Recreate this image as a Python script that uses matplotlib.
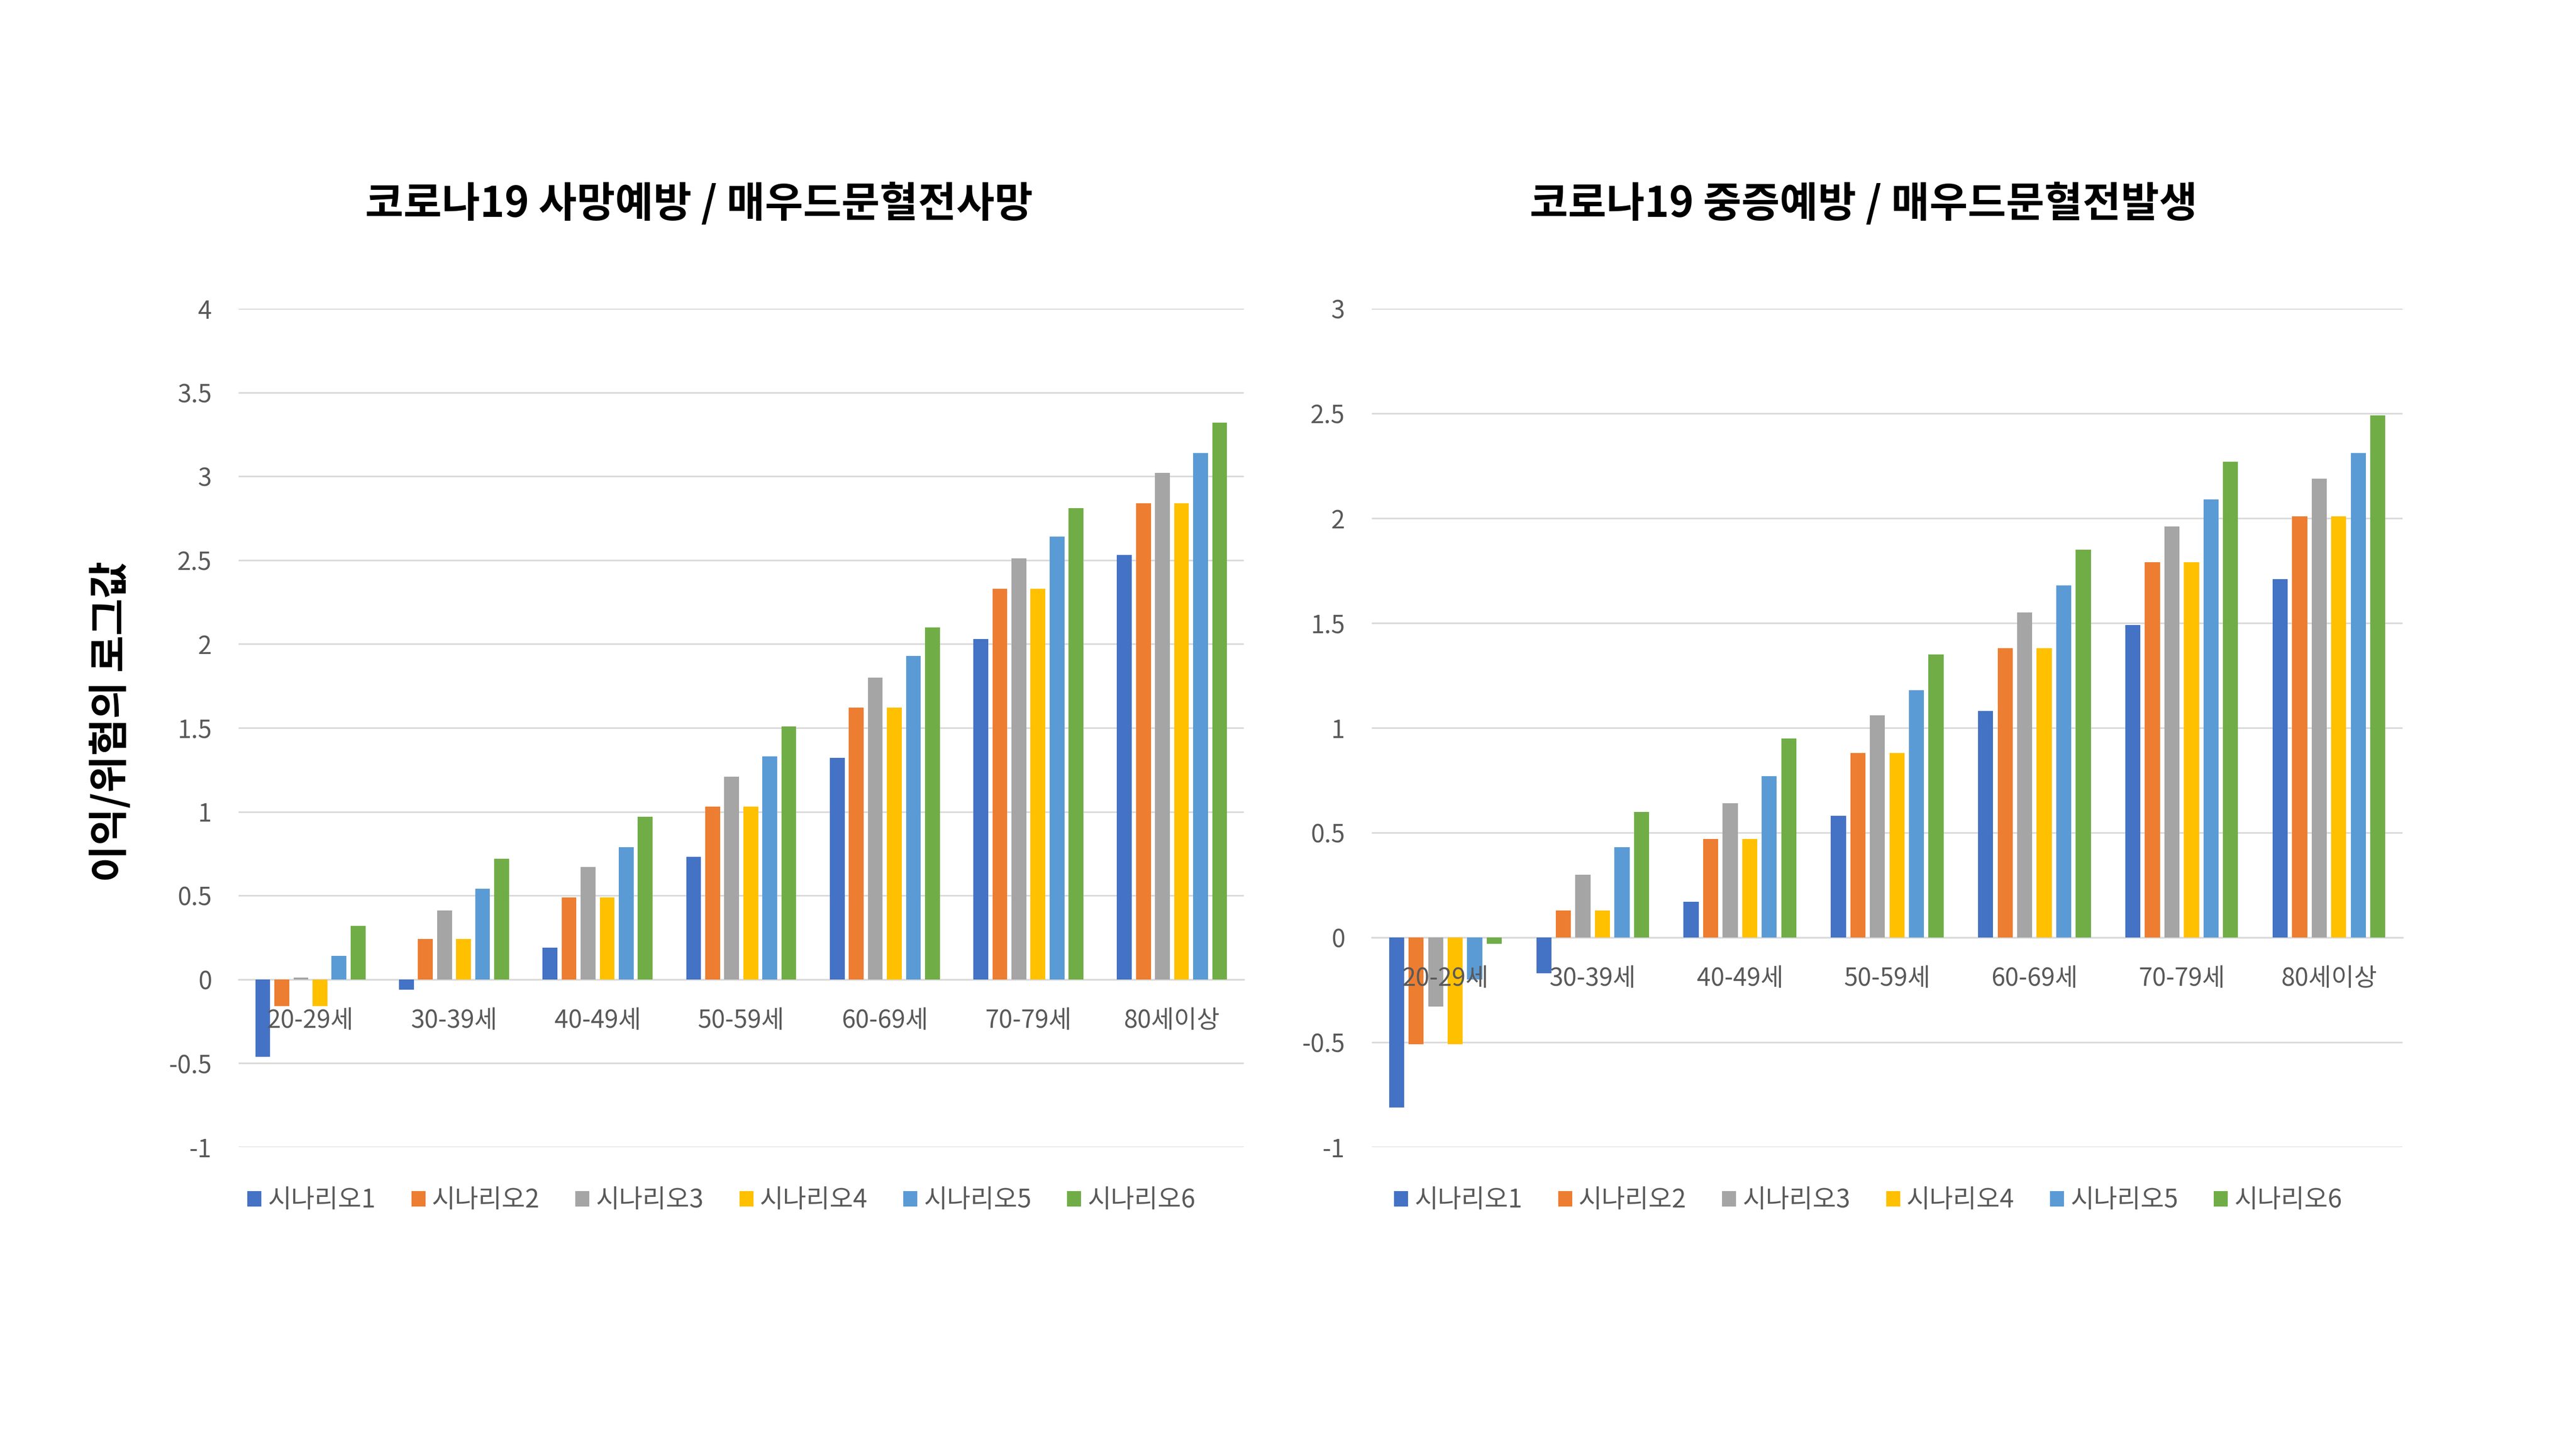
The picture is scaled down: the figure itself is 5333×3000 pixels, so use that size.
import numpy as np
import matplotlib
matplotlib.use("Agg")
import matplotlib.pyplot as plt
from matplotlib.patches import Patch

plt.rcParams['font.family'] = ['Noto Sans CJK KR', 'DejaVu Sans']

ages = ["20-29세", "30-39세", "40-49세", "50-59세", "60-69세", "70-79세", "80세이상"]
scenarios = ["시나리오1", "시나리오2", "시나리오3", "시나리오4", "시나리오5", "시나리오6"]
colors = ["#4472C4", "#ED7D31", "#A5A5A5", "#FFC000", "#5B9BD5", "#70AD47"]

# 코로나19 사망예방 / 매우드문혈전사망  (rows: age group, cols: scenario)
death = [
    [-0.46, -0.16, 0.01, -0.16, 0.14, 0.32],
    [-0.06, 0.24, 0.41, 0.24, 0.54, 0.72],
    [0.19, 0.49, 0.67, 0.49, 0.79, 0.97],
    [0.73, 1.03, 1.21, 1.03, 1.33, 1.51],
    [1.32, 1.62, 1.80, 1.62, 1.93, 2.10],
    [2.03, 2.33, 2.51, 2.33, 2.64, 2.81],
    [2.53, 2.84, 3.02, 2.84, 3.14, 3.32],
]

# 코로나19 중증예방 / 매우드문혈전발생
severe = [
    [-0.81, -0.51, -0.33, -0.51, -0.20, -0.03],
    [-0.17, 0.13, 0.30, 0.13, 0.43, 0.60],
    [0.17, 0.47, 0.64, 0.47, 0.77, 0.95],
    [0.58, 0.88, 1.06, 0.88, 1.18, 1.35],
    [1.08, 1.38, 1.55, 1.38, 1.68, 1.85],
    [1.49, 1.79, 1.96, 1.79, 2.09, 2.27],
    [1.71, 2.01, 2.19, 2.01, 2.31, 2.49],
]

left_ticks = [-1, -0.5, 0, 0.5, 1, 1.5, 2, 2.5, 3, 3.5, 4]
right_ticks = [-1, -0.5, 0, 0.5, 1, 1.5, 2, 2.5, 3]

W, H = 5333, 3000
fig = plt.figure(figsize=(W / 200, H / 200), dpi=200)

top, bottom = 639, 2375
ax1 = fig.add_axes([494 / W, 1 - bottom / H, (2575 - 494) / W, (bottom - top) / H])
ax2 = fig.add_axes([2840 / W, 1 - bottom / H, (4974 - 2840) / W, (bottom - top) / H])


def draw(ax, data, ticks, title, title_x, legend_x):
    data = np.array(data)
    x = np.arange(len(ages))
    step = 0.1326
    for i, s in enumerate(scenarios):
        ax.bar(x + (i - 2.5) * step, data[:, i], width=0.103, color=colors[i], zorder=3)
    ax.set_xlim(-0.5, len(ages) - 0.5)
    ax.set_ylim(ticks[0], ticks[-1])
    ax.set_yticks(ticks, ["%g" % t for t in ticks])
    ax.grid(axis="y", color="#d9d9d9", linewidth=1.2)
    ax.yaxis.set_zorder(0.5)
    for sp in ["left", "right", "top"]:
        ax.spines[sp].set_visible(False)
    ax.spines["bottom"].set_position(("data", 0))
    ax.spines["bottom"].set_color("#d9d9d9")
    ax.spines["bottom"].set_linewidth(1.2)
    ax.spines["bottom"].set_zorder(0.6)
    ax.set_xticks(x, ages)
    ax.xaxis.set_zorder(5)
    ax.tick_params(axis="x", length=0, pad=21, labelsize=18.5, labelcolor="#595959")
    ax.tick_params(axis="y", length=0, pad=20, labelsize=18.5, labelcolor="#595959")
    fig.text(title_x / W, 1 - 424 / H, title, fontsize=31, fontweight="bold",
             ha="center", va="center")
    handles = [Patch(facecolor=c) for c in colors]
    ax.legend(handles, scenarios, loc="center left",
              bbox_to_anchor=(legend_x / W, 1 - 2485 / H), bbox_transform=fig.transFigure,
              ncol=6, frameon=False, fontsize=19, labelcolor="#595959", borderpad=0,
              handlelength=0.55, handleheight=0.55, handletextpad=0.25, columnspacing=1.4)


draw(ax1, death, left_ticks, "코로나19 사망예방 / 매우드문혈전사망", 1447, 486)
draw(ax2, severe, right_ticks, "코로나19 중증예방 / 매우드문혈전발생", 3858, 2860)

fig.text(230 / W, 1 - 1494 / H, "이익/위험의 로그값", rotation=90, fontsize=30,
         fontweight="bold", ha="center", va="center")

fig.savefig("out.png", dpi=200, facecolor="white")
